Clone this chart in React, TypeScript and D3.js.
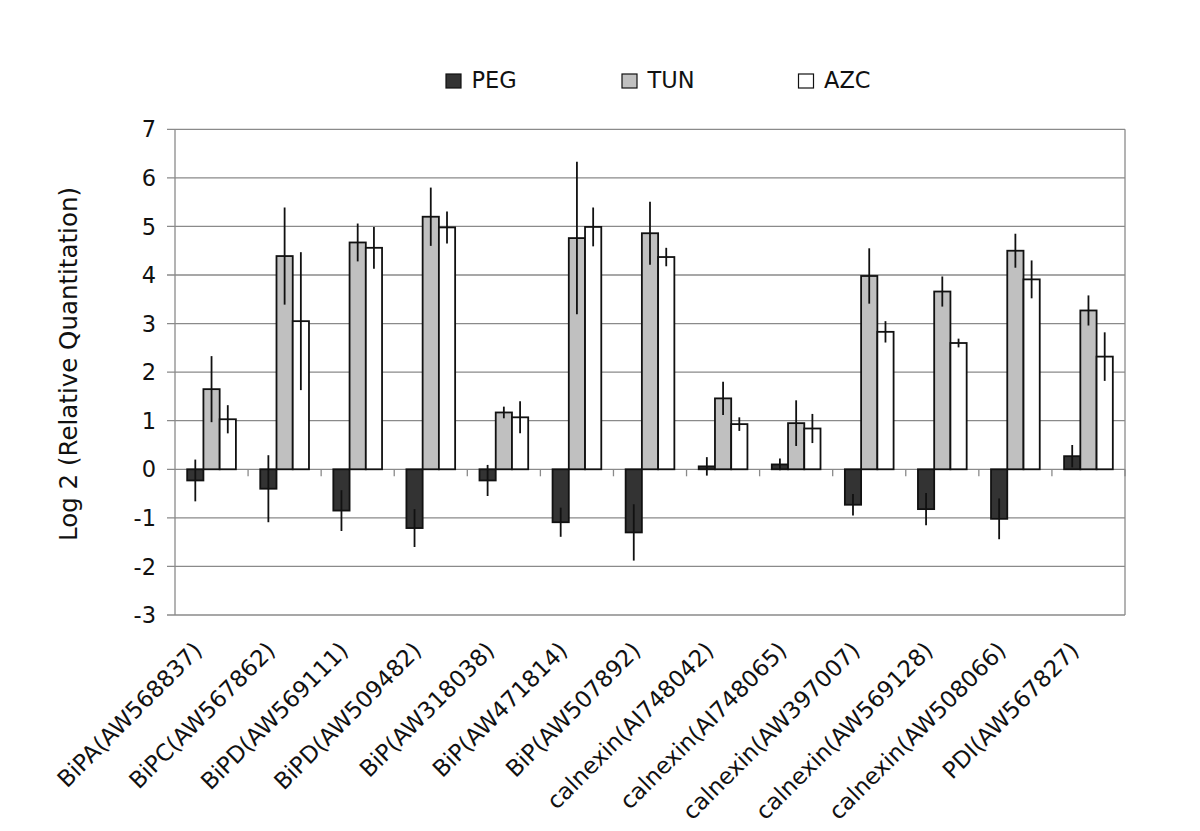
import React from "react";
import * as d3 from "d3";

const categories = [
  "BiPA(AW568837)",
  "BiPC(AW567862)",
  "BiPD(AW569111)",
  "BiPD(AW509482)",
  "BiP(AW318038)",
  "BiP(AW471814)",
  "BiP(AW507892)",
  "calnexin(AI748042)",
  "calnexin(AI748065)",
  "calnexin(AW397007)",
  "calnexin(AW569128)",
  "calnexin(AW508066)",
  "PDI(AW567827)",
];

const seriesNames = ["PEG", "TUN", "AZC"];

const peg = [-0.23, -0.4, -0.85, -1.21, -0.23, -1.09, -1.3, 0.06, 0.1, -0.73, -0.82, -1.02, 0.27];
const pegErr = [0.43, 0.69, 0.42, 0.39, 0.32, 0.3, 0.58, 0.19, 0.12, 0.22, 0.33, 0.42, 0.23];
const tun = [1.65, 4.39, 4.67, 5.2, 1.17, 4.76, 4.86, 1.46, 0.95, 3.98, 3.66, 4.5, 3.27];
const tunErr = [0.68, 1.0, 0.39, 0.6, 0.12, 1.57, 0.65, 0.34, 0.47, 0.57, 0.31, 0.35, 0.31];
const azc = [1.03, 3.05, 4.56, 4.98, 1.07, 4.99, 4.37, 0.93, 0.84, 2.83, 2.6, 3.91, 2.32];
const azcErr = [0.29, 1.42, 0.43, 0.33, 0.33, 0.4, 0.19, 0.14, 0.3, 0.22, 0.09, 0.39, 0.5];

const yTicks = [-3, -2, -1, 0, 1, 2, 3, 4, 5, 6, 7];
const yTitle = "Log 2 (Relative Quantitation)";

const colors = ["#333333", "#c0c0c0", "#ffffff"];

const W = 1200;
const H = 831;
const left = 175;
const right = 1125;
const top = 129.3;
const bottom = 615;
const FONT = "'DejaVu Sans', Verdana, sans-serif";

export default function App() {
  const values = [peg, tun, azc];
  const errs = [pegErr, tunErr, azcErr];

  const x = d3
    .scaleBand<string>()
    .domain(categories)
    .range([left, right])
    .paddingInner(1 / 3)
    .paddingOuter(1 / 6);
  const xs = d3
    .scaleBand<string>()
    .domain(seriesNames)
    .range([0, x.bandwidth()])
    .padding(0);
  const y = d3.scaleLinear().domain([-3, 7]).range([bottom, top]);
  const step = x.step();
  const y0 = y(0);

  const boundaries = d3.range(1, categories.length + 1).map((i) => left + i * step);

  return (
    <svg
      width={W}
      height={H}
      style={{ position: "absolute", left: 0, top: 0, background: "#fff" }}
      fontFamily={FONT}
    >
      {/* gridlines */}
      {yTicks.map((t) => (
        <line
          key={"g" + t}
          x1={left - 8}
          x2={right}
          y1={y(t)}
          y2={y(t)}
          stroke="#8a8a8a"
          strokeWidth={1.3}
        />
      ))}
      {/* plot border */}
      <line x1={left} x2={left} y1={top} y2={bottom} stroke="#8a8a8a" strokeWidth={1.3} />
      <line x1={right} x2={right} y1={top} y2={bottom} stroke="#8a8a8a" strokeWidth={1.3} />
      {/* category ticks on zero line */}
      {boundaries.map((bx, i) => (
        <line key={"ct" + i} x1={bx} x2={bx} y1={y0} y2={y0 + 7} stroke="#8a8a8a" strokeWidth={1.3} />
      ))}
      {/* y tick labels */}
      {yTicks.map((t) => (
        <text
          key={"yl" + t}
          x={156}
          y={y(t)}
          dy="0.36em"
          textAnchor="end"
          fontSize={22.5}
          fill="#111"
        >
          {t}
        </text>
      ))}
      {/* y title */}
      <text
        transform={`translate(77, 364) rotate(-90)`}
        textAnchor="middle"
        fontSize={24.5}
        fill="#111"
      >
        {yTitle}
      </text>
      {/* bars */}
      {categories.map((c, ci) => (
        <g key={"grp" + c}>
          {seriesNames.map((s, si) => {
            const v = values[si][ci];
            const bx = (x(c) as number) + (xs(s) as number);
            const bw = xs.bandwidth();
            return (
              <rect
                key={s}
                x={bx}
                y={Math.min(y(v), y0)}
                width={bw}
                height={Math.abs(y(v) - y0)}
                fill={colors[si]}
                stroke="#111"
                strokeWidth={1.8}
              />
            );
          })}
          {seriesNames.map((s, si) => {
            const v = values[si][ci];
            const e = errs[si][ci];
            const cx = (x(c) as number) + (xs(s) as number) + xs.bandwidth() / 2;
            return (
              <line
                key={"e" + s}
                x1={cx}
                x2={cx}
                y1={y(v + e)}
                y2={y(v - e)}
                stroke="#111"
                strokeWidth={1.8}
              />
            );
          })}
        </g>
      ))}
      {/* category labels */}
      {categories.map((c) => {
        const cx = (x(c) as number) + x.bandwidth() / 2;
        return (
          <text
            key={"cl" + c}
            transform={`translate(${cx - 8}, 652) rotate(-45)`}
            textAnchor="end"
            fontSize={23}
            fill="#111"
          >
            {c}
          </text>
        );
      })}
      {/* legend */}
      {seriesNames.map((s, si) => {
        const lx = [446, 622, 798.5][si];
        return (
          <g key={"lg" + s}>
            <rect x={lx} y={74} width={15} height={14} fill={colors[si]} stroke="#111" strokeWidth={1.2} />
            <text x={lx + 25.5} y={88.3} fontSize={22.5} fill="#111">
              {s}
            </text>
          </g>
        );
      })}
    </svg>
  );
}
